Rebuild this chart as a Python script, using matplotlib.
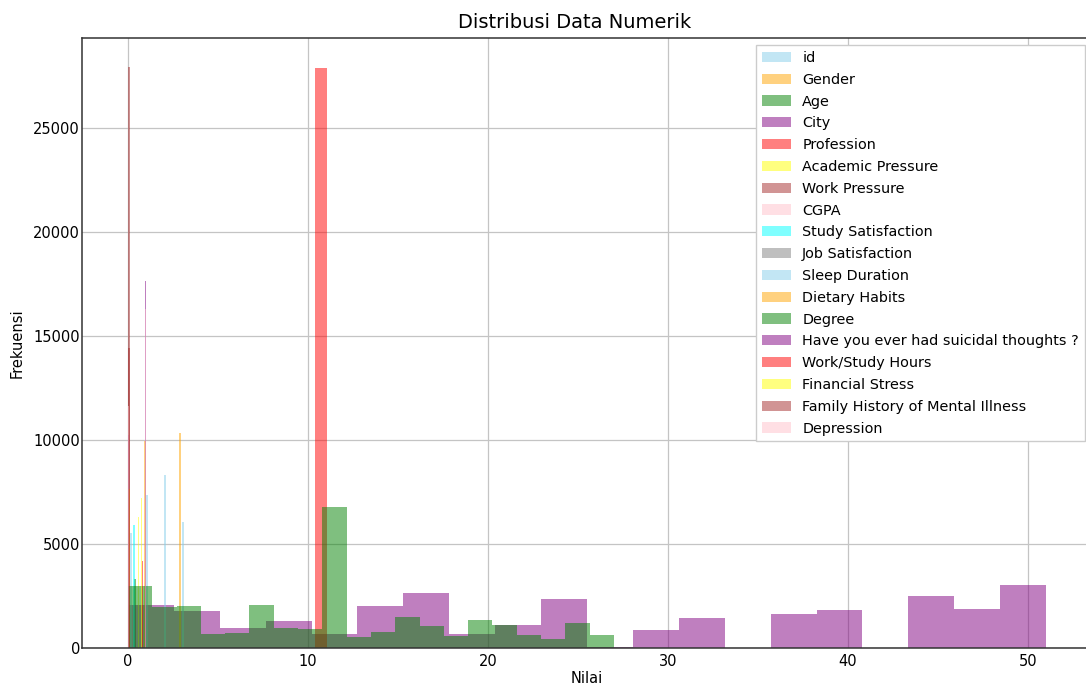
import numpy as np
import matplotlib
matplotlib.use("Agg")
import matplotlib.pyplot as plt
from matplotlib.patches import Patch

# 1) Data
# ===================================================================
columns = [
    "id", "Gender", "Age", "City", "Profession", "Academic Pressure",
    "Work Pressure", "CGPA", "Study Satisfaction", "Job Satisfaction",
    "Sleep Duration", "Dietary Habits", "Degree",
    "Have you ever had suicidal thoughts ?", "Work/Study Hours",
    "Financial Stress", "Family History of Mental Illness", "Depression",
]
palette = ["skyblue", "orange", "green", "purple", "red",
           "yellow", "brown", "pink", "cyan", "gray"]

# wide histograms: (bin left edges, counts)
city_left = [0, 2.55, 5.1, 7.65, 10.2, 12.75, 15.3, 17.85, 20.4, 22.95,
             25.5, 28.05, 30.6, 33.15, 35.7, 38.25, 40.8, 43.35, 45.9, 48.45]
city_count = [2060, 1770, 940, 1300, 670, 2030, 2650, 660, 1120, 2330,
              30, 860, 1450, 20, 1630, 1820, 20, 2510, 1890, 3020]

degree_left = [0, 1.35, 2.7, 4.05, 5.4, 6.75, 8.1, 9.45, 10.8, 12.15,
               13.5, 14.85, 16.2, 17.55, 18.9, 20.25, 21.6, 22.95, 24.3, 25.65]
degree_count = [3000, 1950, 2030, 670, 720, 2060, 940, 900, 6780, 550,
                780, 1470, 1070, 600, 1330, 1100, 620, 430, 1210, 620]

profession_left = [10.4]
profession_count = [27870]

# thin spikes near zero
age_left, age_count = [0.35], [3300]
academic_left, academic_count = [0.55], [6300]
work_pressure_left, work_pressure_count = [0.0], [27900]
study_sat_left, study_sat_count = [0.3], [5900]
sleep_left = [0.1, 1.0, 2.0, 3.0]
sleep_count = [5500, 7350, 8310, 6040]
dietary_left = [0.0, 0.9, 2.85]
dietary_count = [7650, 9920, 10320]
suicidal_left, suicidal_count = [0.0, 0.95], [10250, 17650]
hours_left, hours_count = [0.78], [4200]
financial_left, financial_count = [0.72], [7200]
family_left, family_count = [0.0], [14400]
depression_left, depression_count = [0.0, 0.95], [11600, 16300]

# draw order follows the column order
layers = [
    ("Age", age_left, age_count, 0.08),
    ("City", city_left, city_count, 2.55),
    ("Profession", profession_left, profession_count, 0.65),
    ("Academic Pressure", academic_left, academic_count, 0.08),
    ("Work Pressure", work_pressure_left, work_pressure_count, 0.1),
    ("Study Satisfaction", study_sat_left, study_sat_count, 0.1),
    ("Sleep Duration", sleep_left, sleep_count, 0.12),
    ("Dietary Habits", dietary_left, dietary_count, 0.12),
    ("Degree", degree_left, degree_count, 1.35),
    ("Have you ever had suicidal thoughts ?", suicidal_left, suicidal_count, 0.06),
    ("Work/Study Hours", hours_left, hours_count, 0.08),
    ("Financial Stress", financial_left, financial_count, 0.08),
    ("Family History of Mental Illness", family_left, family_count, 0.1),
    ("Depression", depression_left, depression_count, 0.08),
]

# 2) Plot
# ===================================================================
plt.rcParams["font.family"] = "DejaVu Sans"
fig = plt.figure(figsize=(10.86, 6.87), dpi=100)
ax = fig.add_axes([82 / 1086, 39 / 687, 1010 / 1086, 610 / 687])

color_of = {c: palette[i % len(palette)] for i, c in enumerate(columns)}

for name, left, count, w in layers:
    ax.bar(left, count, width=w, align="edge", color=color_of[name],
           alpha=0.5, linewidth=0, zorder=2)

ax.set_xlim(-2.55, 53.55)
ax.set_ylim(0, 29300)
ax.set_yticks([0, 5000, 10000, 15000, 20000, 25000])
ax.grid(True, color="#c4c4c4", linewidth=0.9, zorder=0)
ax.set_axisbelow(True)
ax.tick_params(length=0, labelsize=10.5)
ax.tick_params(axis="y", pad=1.5)
ax.tick_params(axis="x", pad=4)
for s in ax.spines.values():
    s.set_color("#333333")
    s.set_linewidth(1.1)

ax.set_title("Distribusi Data Numerik", fontsize=14, pad=7, x=0.4876)
ax.set_xlabel("Nilai", fontsize=10.5, labelpad=2)
ax.set_ylabel("Frekuensi", fontsize=10.5, labelpad=6)

handles = [Patch(facecolor=color_of[c], alpha=0.5, label=c) for c in columns]
ax.legend(handles=handles, loc="upper right", fontsize=10.4,
          frameon=True, fancybox=False, edgecolor="#cccccc",
          framealpha=1.0, labelspacing=0.54)

fig.savefig("out.png", dpi=100)
